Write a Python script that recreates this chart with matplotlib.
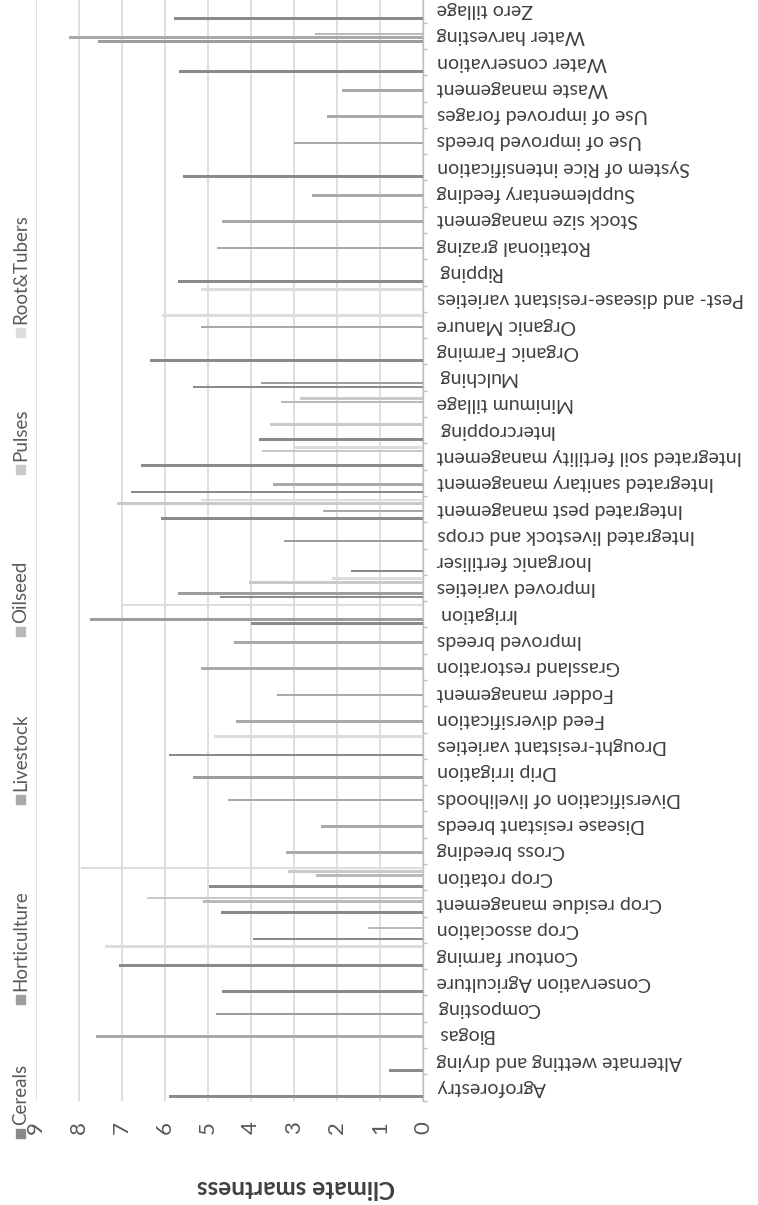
import matplotlib
matplotlib.use("Agg")
import matplotlib.pyplot as plt
from matplotlib.patches import Rectangle
import numpy as np

plt.rcParams['font.family'] = ['Lato', 'DejaVu Sans']

categories = [
    "Agroforestry", "Alternate wetting and drying", "Biogas", "Composting",
    "Conservation Agriculture", "Contour farming", "Crop association",
    "Crop residue management", "Crop rotation", "Cross breeding",
    "Disease resistant breeds", "Diversification of livelihoods",
    "Drip irrigation", "Drought-resistant varieties", "Feed diversification",
    "Fodder management", "Grassland restoration", "Improved breeds",
    "Irrigation", "Improved varieties", "Inorganic fertiliser",
    "Integrated livestock and crops", "Integrated pest management",
    "Integrated sanitary management", "Integrated soil fertility management",
    "Intercropping", "Minimum tillage", "Mulching", "Organic Farming",
    "Organic Manure", "Pest- and disease-resistant varieties", "Ripping",
    "Rotational grazing", "Stock size management", "Supplementary feeding",
    "System of Rice intensification", "Use of improved breeds",
    "Use of improved forages", "Waste management", "Water conservation",
    "Water harvesting", "Zero tillage",
]

series_names = ["Cereals", "Horticulture", "Livestock", "Oilseed", "Pulses", "Root&Tubers"]

# one value per category, 0 = no bar
cereals = [5.90, 0.78, 0, 0, 4.67, 7.06, 3.95, 4.69, 4.97, 0,
           0, 0, 0, 5.90, 0, 0, 0, 0, 3.99, 4.71,
           1.68, 0, 6.10, 6.80, 6.56, 3.81, 0, 5.36, 6.36, 0,
           0, 5.69, 0, 0, 0, 5.57, 0, 0, 0, 5.67,
           0, 5.79]
horticulture = [0, 0, 0, 4.81, 0, 0, 0, 0, 0, 0,
                0, 0, 5.34, 0, 0, 0, 0, 0, 7.74, 5.69,
                0, 3.24, 0, 0, 0, 0, 0, 3.77, 0, 0,
                0, 0, 0, 0, 0, 0, 0, 0, 0, 0,
                7.55, 0]
livestock = [0, 0, 7.60, 0, 0, 0, 0, 0, 0, 3.19,
             2.37, 4.54, 0, 0, 4.35, 3.40, 5.17, 4.40, 0, 0,
             0, 0, 2.32, 3.48, 0, 0, 0, 0, 0, 5.16,
             0, 0, 4.80, 4.67, 2.57, 0, 2.99, 2.23, 1.88, 0,
             8.23, 0]
oilseed = [0, 0, 0, 0, 0, 0, 1.29, 5.11, 2.49, 0,
           0, 0, 0, 0, 0, 0, 0, 0, 0, 0,
           0, 0, 0, 0, 0, 0, 3.30, 0, 0, 0,
           0, 0, 0, 0, 0, 0, 0, 0, 0, 0,
           2.51, 0]
pulses = [0, 0, 0, 0, 0, 0, 0, 6.43, 3.13, 0,
          0, 0, 0, 0, 0, 0, 0, 0, 0, 4.04,
          0, 0, 7.12, 0, 3.75, 3.56, 2.86, 0, 0, 0,
          0, 0, 0, 0, 0, 0, 0, 0, 0, 0,
          0, 0]
root_tubers = [0, 0, 0, 0, 0, 7.39, 0, 0, 7.96, 0,
               0, 0, 0, 4.85, 0, 0, 0, 0, 6.99, 2.11,
               0, 0, 5.16, 0, 3.01, 0, 0, 0, 0, 6.08,
               5.17, 0, 0, 0, 0, 0, 0, 0, 0, 0,
               0, 0]

x_ticks = list(range(0, 10))

colors = ["#8a8a8a", "#9d9d9d", "#a9a9a9", "#b9b9b9", "#c9c9c9", "#dcdcdc"]
text_col = "#404040"

W, H = 758, 1205
fig = plt.figure(figsize=(W / 100, H / 100), dpi=100)

# plot area in pixels (image is the column chart turned a quarter turn)
left_px, right_px = 36, 423
top_px, bottom_px = -3.6, 1100.6
ax = fig.add_axes([left_px / W, 1 - bottom_px / H,
                   (right_px - left_px) / W, (bottom_px - top_px) / H])

slot = 0.1407
bar_h = 0.10
ypos = np.arange(len(categories))
for i, vals in enumerate([cereals, horticulture, livestock, oilseed, pulses, root_tubers]):
    vals = np.array(vals, dtype=float)
    ax.barh(ypos + (i - 2.5) * slot, vals, height=bar_h, color=colors[i],
            linewidth=0, zorder=3)

ax.set_xlim(9, 0)
ax.set_ylim(-0.5, len(categories) - 0.5)

ax.set_xticks(x_ticks)
ax.set_xticklabels([str(t) for t in x_ticks], rotation=90, fontsize=16, color="#595959")
ax.tick_params(axis='x', length=0, pad=15)
ax.grid(axis='x', color="#d9d9d9", linewidth=1.2, zorder=0)

ax.yaxis.tick_right()
ax.set_yticks(ypos)
ax.set_yticklabels(categories, rotation=180, fontsize=14, color=text_col,
                   ha='left', va='center')
ax.set_yticks(np.arange(-0.5, len(categories)), minor=True)
ax.tick_params(axis='y', which='major', length=0, pad=10)
ax.tick_params(axis='y', which='minor', length=3, color="#bfbfbf", width=1)

for s in ['top', 'bottom', 'left']:
    ax.spines[s].set_visible(False)
ax.spines['right'].set_color("#bfbfbf")
ax.spines['right'].set_linewidth(1.0)

fig.text(296 / W, 1 - 1187 / H, "Climate smartness", rotation=180, fontsize=17.5,
         fontweight='bold', color=text_col, ha='center', va='center')

# legend, stacked along the left edge, reading bottom to top
legend_y = [1138, 1004, 804, 636, 474, 337]
for name, col, yy in zip(series_names, colors, legend_y):
    fig.patches.append(Rectangle(((16) / W, 1 - yy / H), 9 / W, 9 / H,
                                 transform=fig.transFigure, color=col))
    fig.text(20.5 / W, 1 - (yy - 13) / H, name, rotation=90, fontsize=13.5,
             color="#595959", ha='center', va='bottom')

fig.savefig("out.png", dpi=100, facecolor="white")
